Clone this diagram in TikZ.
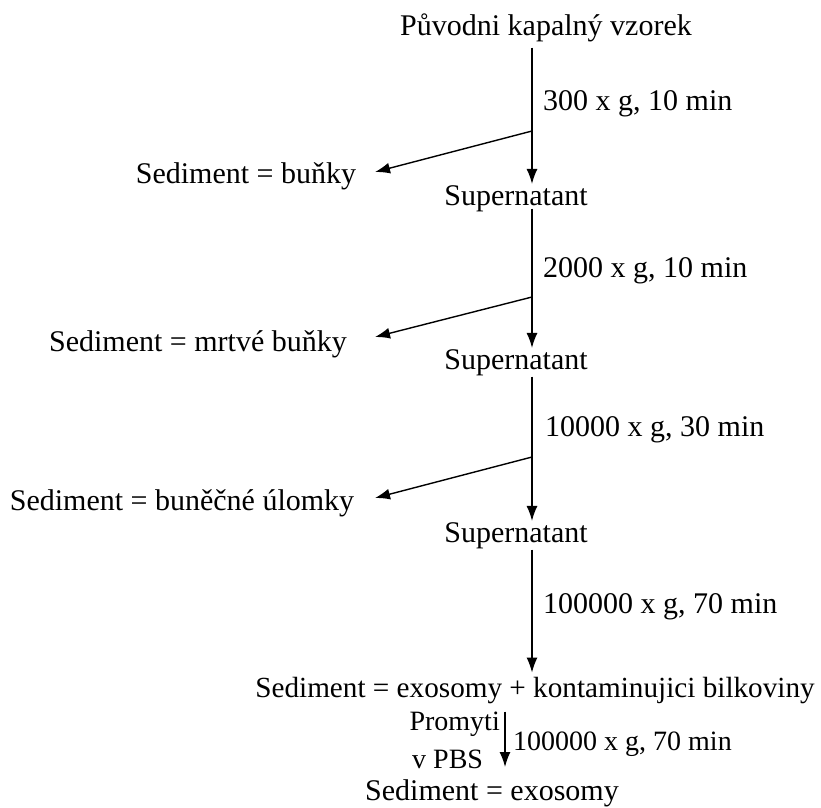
\documentclass[tikz,border=0pt]{standalone}
\usepackage{fontspec}
\setmainfont{Liberation Serif}
\usetikzlibrary{arrows.meta}
\begin{document}
\begin{tikzpicture}[x=1pt,y=-1pt,
  txt/.style={inner sep=0pt,anchor=base,font=\fontsize{30}{36}\selectfont},
  lbl/.style={inner sep=0pt,anchor=base west,font=\fontsize{30}{36}\selectfont},
  sml/.style={inner sep=0pt,font=\fontsize{28}{34}\selectfont},
  arr/.style={line width=1.4pt,-{Latex[length=15pt,width=11pt]}},
  ]
\useasboundingbox (0,0) rectangle (821,807);
% main column nodes
\node[txt] (title) at (546,35) {Původni kapalný vzorek};
\node[txt] (sup1) at (516,205) {Supernatant};
\node[txt] (sup2) at (516,369) {Supernatant};
\node[txt] (sup3) at (516,542) {Supernatant};
\node[txt,font=\fontsize{29.2}{35}\selectfont] (sed4) at (535,697) {Sediment = exosomy + kontaminujici bilkoviny};
\node[txt] (sed5) at (492,800) {Sediment = exosomy};
% side sediments
\node[txt] (sedA) at (246,183) {Sediment = buňky};
\node[txt] (sedB) at (198,351) {Sediment = mrtvé buňky};
\node[txt] (sedC) at (182,510) {Sediment = buněčné úlomky};
% labels
\node[lbl] (l1) at (543,110) {300 x g, 10 min};
\node[lbl] (l2) at (543,277) {2000 x g, 10 min};
\node[lbl] (l3) at (545,436) {10000 x g, 30 min};
\node[lbl] (l4) at (543,613) {100000 x g, 70 min};
\node[sml,anchor=base west] (l5) at (513,750) {100000 x g, 70 min};
\node[sml,anchor=base east] (p1) at (500,730) {Promyti};
\node[sml,anchor=base west] (p2) at (412,768) {v PBS};
% coordinates
\coordinate (m) at (532,0);
\coordinate (m5) at (505,0);
\coordinate (b1) at (532,131);
\coordinate (b2) at (532,297);
\coordinate (b3) at (532,457);
\coordinate (tA) at (375,172);
\coordinate (tB) at (375,337);
\coordinate (tC) at (375,498);
% main arrows
\draw[arr] ([yshift=-6pt]title.south -| m) -- ([yshift=1pt]sup1.north -| m);
\draw[arr] ([yshift=3pt]sup1.south -| m) -- ([yshift=1pt]sup2.north -| m);
\draw[arr] ([yshift=-1pt]sup2.south -| m) -- ([yshift=1pt]sup3.north -| m);
\draw[arr] ([yshift=-1pt]sup3.south -| m) -- ([yshift=4pt]sed4.north -| m);
\draw[arr] ([yshift=-8pt]sed4.south -| m5) -- ([yshift=12pt]sed5.north -| m5);
% branch arrows
\draw[arr] (b1) -- (tA);
\draw[arr] (b2) -- (tB);
\draw[arr] (b3) -- (tC);
\end{tikzpicture}
\end{document}
